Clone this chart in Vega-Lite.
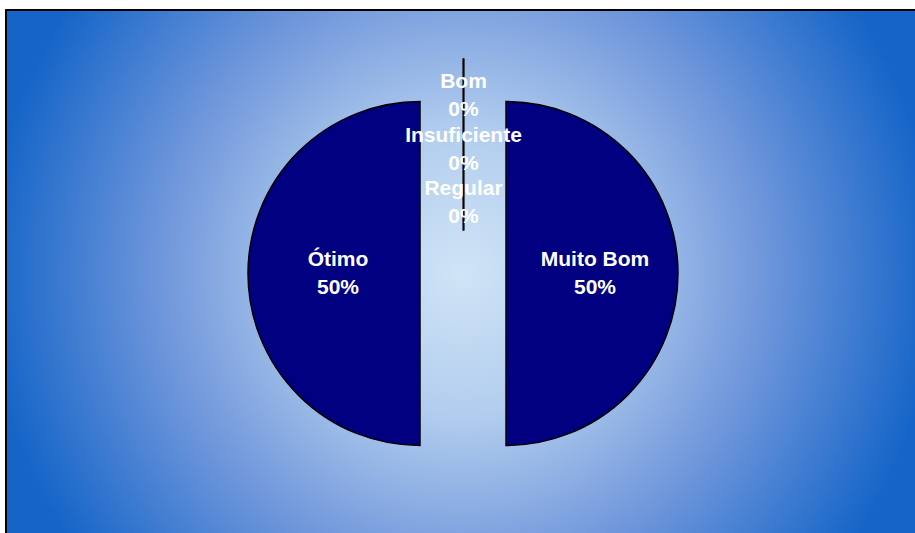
{
  "$schema": "https://vega.github.io/schema/vega-lite/v6.json",
  "width": 909,
  "height": 523,
  "autosize": {"type": "none"},
  "padding": {"left": 6, "top": 10, "right": 0, "bottom": 0},
  "background": "#ffffff",
  "config": {
    "view": {"stroke": null},
    "text": {"font": "Liberation Sans", "fontWeight": "bold", "fontSize": 21, "lineHeight": 28, "lineBreak": "\n", "fill": "#ffffff"}
  },
  "layer": [
    {
      "data": {"values": [{"frame": "background"}]},
      "mark": {
        "type": "rect",
        "stroke": "#000000",
        "strokeWidth": 2,
        "x2Offset": 3,
        "y2Offset": 3,
        "fill": {
          "gradient": "radial",
          "x1": 0.5, "y1": 0.5, "r1": 0,
          "x2": 0.5, "y2": 0.5, "r2": 0.52,
          "stops": [
            {"offset": 0, "color": "#d0e4f6"},
            {"offset": 0.3, "color": "#b2cdee"},
            {"offset": 0.62, "color": "#7399dc"},
            {"offset": 1, "color": "#1565c8"}
          ]
        }
      },
      "encoding": {
        "x": {"value": 0},
        "x2": {"value": "width"},
        "y": {"value": 0},
        "y2": {"value": "height"}
      }
    },
    {
      "data": {
        "values": [
          {"cat": "Muito Bom", "v": 50, "ord": 1, "label": "Muito Bom\n50%"},
          {"cat": "Ótimo", "v": 50, "ord": 2, "label": "Ótimo\n50%"},
          {"cat": "Bom", "v": 0, "ord": 3, "label": "Bom\n0%"},
          {"cat": "Insuficiente", "v": 0, "ord": 4, "label": "Insuficiente\n0%"},
          {"cat": "Regular", "v": 0, "ord": 5, "label": "Regular\n0%"}
        ]
      },
      "encoding": {
        "theta": {"field": "v", "type": "quantitative", "stack": true, "scale": {"domain": [0, 100]}},
        "order": {"field": "ord", "type": "quantitative", "sort": "ascending"}
      },
      "layer": [
        {
          "mark": {"type": "arc", "xOffset": 45.5, "yOffset": 2, "fill": "#000080", "stroke": "#000000", "strokeWidth": 1.5, "outerRadius": 172},
          "encoding": {"opacity": {"condition": {"test": "datum.cat === 'Muito Bom'", "value": 1}, "value": 0}}
        },
        {
          "mark": {"type": "arc", "xOffset": -40.5, "yOffset": 2, "fill": "#000080", "stroke": "#000000", "strokeWidth": 1.5, "outerRadius": 172},
          "encoding": {"opacity": {"condition": {"test": "datum.cat === 'Ótimo'", "value": 1}, "value": 0}}
        },
        {
          "mark": {"type": "arc", "xOffset": 3, "yOffset": -41, "fill": null, "stroke": "#000000", "strokeWidth": 1.5, "outerRadius": 172},
          "encoding": {"opacity": {"condition": {"test": "datum.v === 0", "value": 1}, "value": 0}}
        },
        {
          "mark": {"type": "text", "xOffset": 45.5, "yOffset": 2, "dy": -14, "radius": 89, "baseline": "middle", "align": "center"},
          "encoding": {"text": {"field": "label"}, "opacity": {"condition": {"test": "datum.cat === 'Muito Bom'", "value": 1}, "value": 0}}
        },
        {
          "mark": {"type": "text", "xOffset": -40.5, "yOffset": 2, "dy": -14, "radius": 82, "baseline": "middle", "align": "center"},
          "encoding": {"text": {"field": "label"}, "opacity": {"condition": {"test": "datum.cat === 'Ótimo'", "value": 1}, "value": 0}}
        },
        {
          "mark": {"type": "text", "xOffset": 3, "yOffset": 2, "dy": -14, "radius": 178, "baseline": "middle", "align": "center"},
          "encoding": {"text": {"field": "label"}, "opacity": {"condition": {"test": "datum.cat === 'Bom'", "value": 1}, "value": 0}}
        },
        {
          "mark": {"type": "text", "xOffset": 3, "yOffset": 2, "dy": -14, "radius": 124, "baseline": "middle", "align": "center"},
          "encoding": {"text": {"field": "label"}, "opacity": {"condition": {"test": "datum.cat === 'Insuficiente'", "value": 1}, "value": 0}}
        },
        {
          "mark": {"type": "text", "xOffset": 3, "yOffset": 2, "dy": -14, "radius": 71, "baseline": "middle", "align": "center"},
          "encoding": {"text": {"field": "label"}, "opacity": {"condition": {"test": "datum.cat === 'Regular'", "value": 1}, "value": 0}}
        }
      ]
    }
  ]
}
